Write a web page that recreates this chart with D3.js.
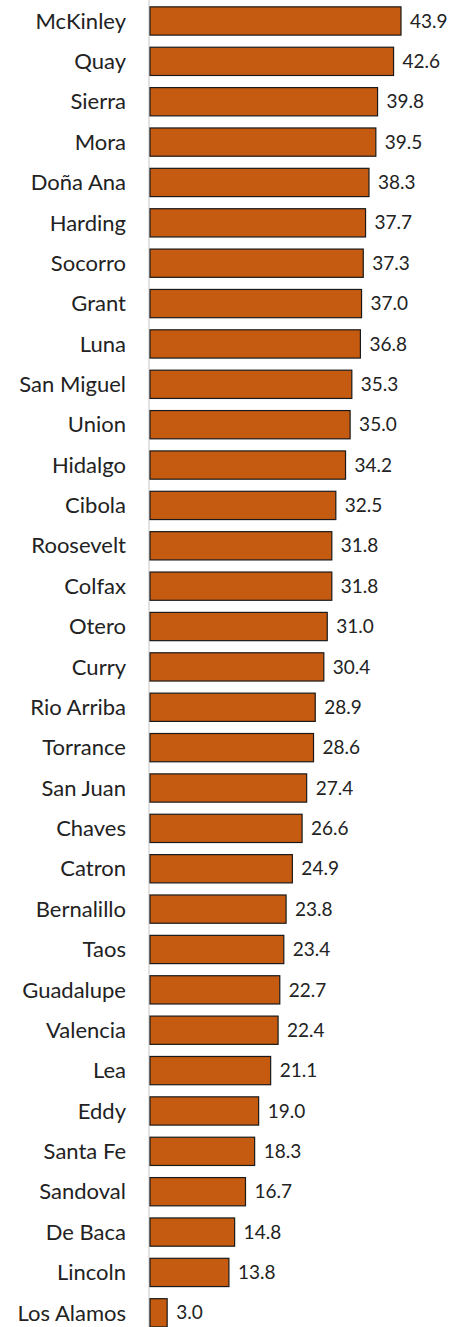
<!DOCTYPE html>
<html><head><meta charset="utf-8">
<script src="https://cdn.jsdelivr.net/npm/d3@7"></script>
<style>body{margin:0;background:#fff}svg{display:block}</style>
</head><body>
<script>
const counties = ["McKinley","Quay","Sierra","Mora","Doña Ana","Harding","Socorro","Grant","Luna","San Miguel","Union","Hidalgo","Cibola","Roosevelt","Colfax","Otero","Curry","Rio Arriba","Torrance","San Juan","Chaves","Catron","Bernalillo","Taos","Guadalupe","Valencia","Lea","Eddy","Santa Fe","Sandoval","De Baca","Lincoln","Los Alamos"];
const values = [43.9,42.6,39.8,39.5,38.3,37.7,37.3,37.0,36.8,35.3,35.0,34.2,32.5,31.8,31.8,31.0,30.4,28.9,28.6,27.4,26.6,24.9,23.8,23.4,22.7,22.4,21.1,19.0,18.3,16.7,14.8,13.8,3.0];

const W = 459, H = 1327;
const svg = d3.select("body").append("svg").attr("width", W).attr("height", H);
const data = counties.map((c,i)=>({c, v: values[i]}));

const y = d3.scaleBand().domain(counties).range([0.8, 1333]).paddingInner(0.3).paddingOuter(0.15);
const x = d3.scaleLinear().domain([0, 43.9]).range([150, 401]);

// axis line
svg.append("line").attr("x1",149).attr("x2",149).attr("y1",0).attr("y2",H)
  .attr("stroke","#d9d9d9").attr("stroke-width",1.5);

svg.selectAll("rect.bar").data(data).join("rect").attr("class","bar")
  .attr("x", x(0)).attr("y", d=>y(d.c)).attr("width", d=>x(d.v)-x(0)).attr("height", y.bandwidth())
  .attr("fill","#C55A11").attr("stroke","#1a1a1a").attr("stroke-width",1.2);

svg.selectAll("text.lab").data(data).join("text").attr("class","lab")
  .attr("x",126).attr("y", d=>y(d.c)+y.bandwidth()/2).attr("dy","0.35em")
  .attr("text-anchor","end").attr("font-family","Lato, 'Open Sans', sans-serif").attr("font-size",22)
  .attr("fill","#222").text(d=>d.c);

svg.selectAll("text.val").data(data).join("text").attr("class","val")
  .attr("x", d=>x(d.v)+9).attr("y", d=>y(d.c)+y.bandwidth()/2).attr("dy","0.35em")
  .attr("font-family","Lato, 'Open Sans', sans-serif").attr("font-size",19)
  .attr("fill","#222").text(d=>d3.format(".1f")(d.v));
</script>
</body></html>
